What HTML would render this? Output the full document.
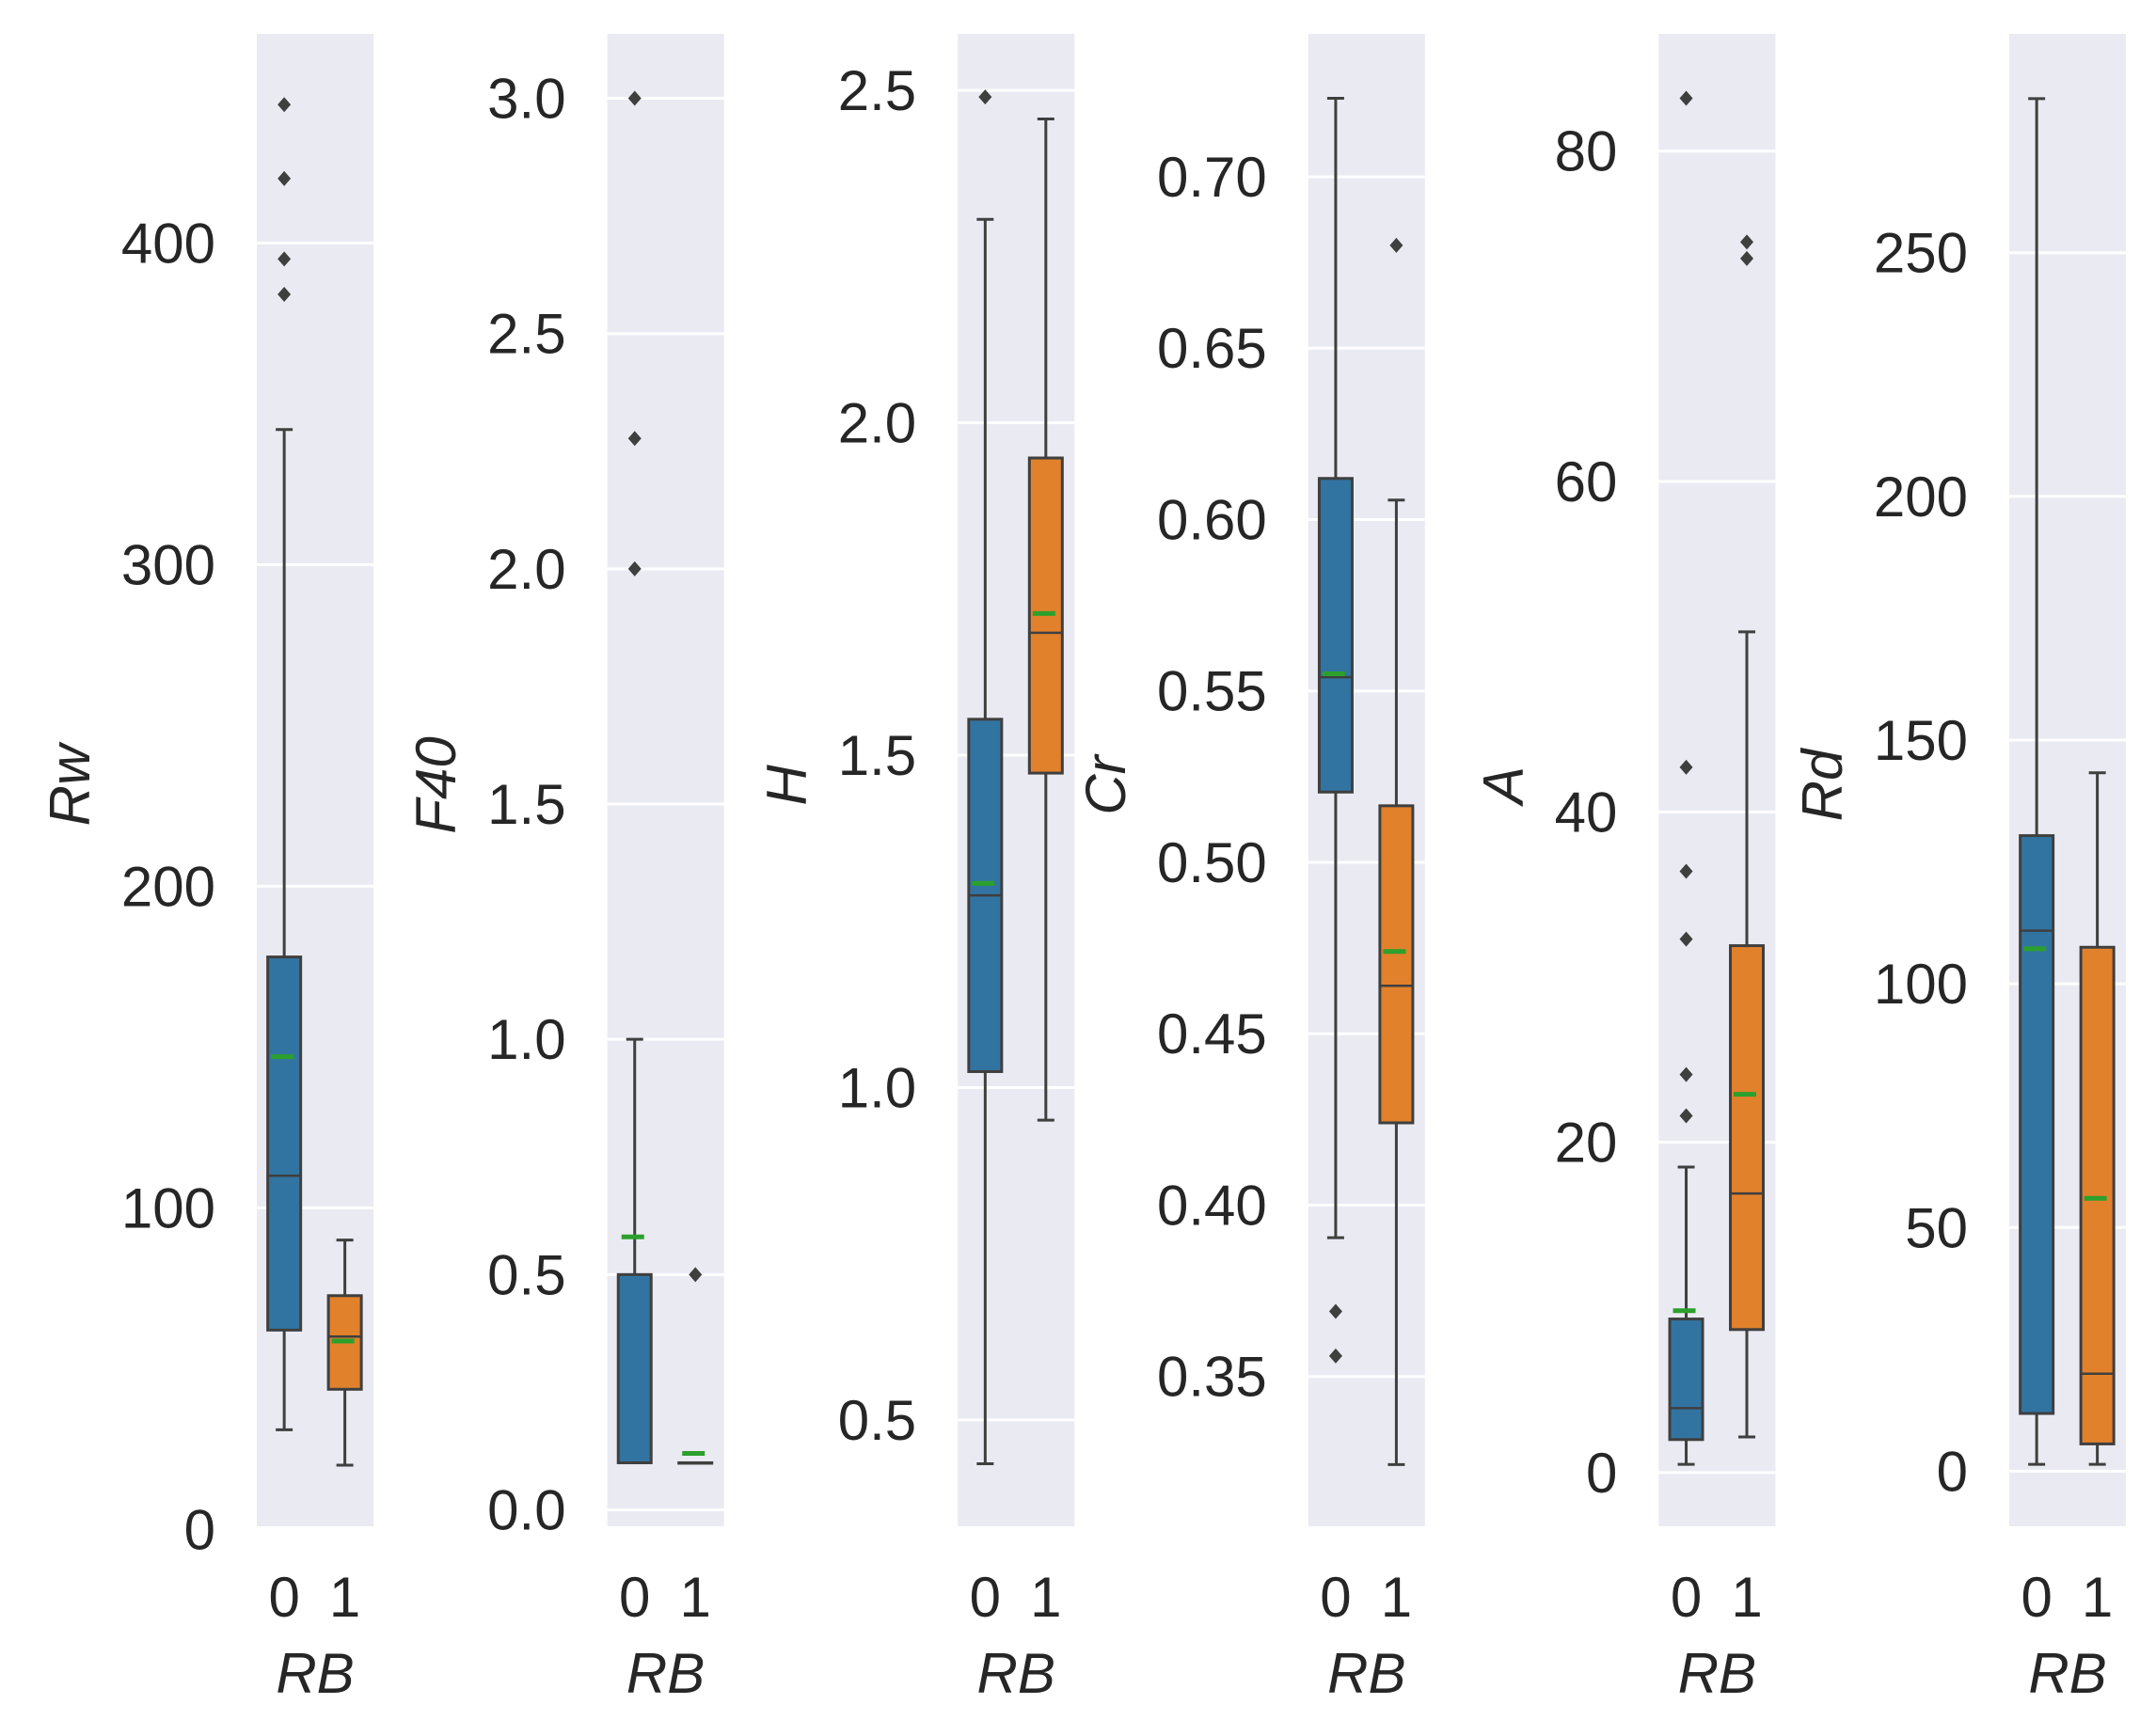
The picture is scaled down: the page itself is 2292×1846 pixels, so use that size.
<!DOCTYPE html>
<html><head><meta charset="utf-8"><style>
html,body{margin:0;padding:0;background:#fff;}
svg{display:block;font-family:"Liberation Sans",Arial,sans-serif;}
</style></head><body>
<svg id="chart" width="2292" height="1846" viewBox="0 0 2292 1846" xmlns="http://www.w3.org/2000/svg"></svg>
<script>
// Data per panel
const panelTitles = ["Rw","F40","H","Cr","A","Rd"];
const yLimits = [[1,465],[-0.035,3.137],[0.34,2.585],[0.3063,0.7417],[-3.25,87.1],[-11.3,294.9]];
const yTicks = [[0,100,200,300,400],[0,0.5,1,1.5,2,2.5,3],[0.5,1,1.5,2,2.5],[0.35,0.4,0.45,0.5,0.55,0.6,0.65,0.7],[0,20,40,60,80],[0,50,100,150,200,250]];
const tickDecimals = [0,1,1,2,0,0];
const categories = ["0","1"];
// [whiskerLow, q1, median, q3, whiskerHigh, mean] for RB=0 and RB=1
const statsRB0 = [[31,62,110,178,342,147],[0.1,0.1,0.1,0.5,1.0,0.58],[0.434,1.024,1.289,1.554,2.306,1.307],[0.3905,0.5205,0.554,0.612,0.7229,0.555],[0.5,2.0,3.9,9.3,18.5,9.8],[1.4,11.85,110.9,130.4,281.6,107.2]];
const statsRB1 = [[20,43.6,60,72.7,90,58.6],[0.1,0.1,0.1,0.1,0.1,0.12],[0.951,1.473,1.684,1.947,2.457,1.713],[0.3243,0.424,0.464,0.5165,0.6057,0.474],[2.16,8.66,16.9,31.9,50.9,22.9],[1.4,5.6,20,107.5,143.3,56]];
const outliersRB0 = [[443,420,395,384],[3.0,2.277,2.0],[2.49],[0.369,0.356],[83.2,42.7,36.4,32.3,24.1,21.6],[]];
const outliersRB1 = [[],[0.5],[],[0.68],[74.5,73.5],[]];

const NS="http://www.w3.org/2000/svg";
const svg=document.getElementById('chart');
function mk(tag,attrs,parent){const e=document.createElementNS(NS,tag);for(const k in attrs)e.setAttribute(k,attrs[k]);(parent||svg).appendChild(e);return e;}
const TOP=36,BOT=1623,PW=124,LEFT0=273,STEP=372.6,FS=60;
const colors=["#3274a1","#e1812c"],edge="#3f3f3f",green="#2ca02c";
for(let p=0;p<6;p++){
  const L=LEFT0+STEP*p;
  const g=mk('g',{});
  
  
  const [y0,y1]=yLimits[p];
  const Y=v=>BOT-(v-y0)/(y1-y0)*(BOT-TOP);
  const X=i=>L+PW*(i===0?0.235:0.755);
  const bg=mk('rect',{x:L,y:TOP,width:PW,height:BOT-TOP,fill:"#eaeaf2"},g);
  
  
  let maxW=0;const labels=[];
  yTicks[p].forEach(t=>{
    const y=Y(t);
    if(y>=TOP-1&&y<=BOT+1){
      const gl=mk('line',{x1:L,x2:L+PW,y1:y,y2:y,stroke:"#fff","stroke-width":3},g);
      
      
    }
    const tx=mk('text',{x:L-44,y:y+21,"text-anchor":"end","font-size":FS,fill:"#262626"},g);
    tx.textContent=t.toFixed(tickDecimals[p]);
    
    
    labels.push(tx);
  });
  labels.forEach(t=>{maxW=Math.max(maxW,t.getBBox().width);});
  const yt=mk('text',{x:0,y:0,"text-anchor":"middle","font-size":FS,"font-style":"italic",fill:"#262626",transform:`translate(${L-44-maxW-34},835) rotate(-90)`},g);
  yt.textContent=panelTitles[p];
  
  
  [statsRB0[p],statsRB1[p]].forEach((s,i)=>{
    const cx=X(i),bw=35;
    const bx=mk('g',{},g);
    
    
    mk('line',{x1:cx,x2:cx,y1:Y(s[0]),y2:Y(s[1]),stroke:edge,"stroke-width":3},bx);
    mk('line',{x1:cx,x2:cx,y1:Y(s[3]),y2:Y(s[4]),stroke:edge,"stroke-width":3},bx);
    mk('line',{x1:cx-9,x2:cx+9,y1:Y(s[0]),y2:Y(s[0]),stroke:edge,"stroke-width":3},bx);
    mk('line',{x1:cx-9,x2:cx+9,y1:Y(s[4]),y2:Y(s[4]),stroke:edge,"stroke-width":3},bx);
    mk('rect',{x:cx-bw/2,y:Y(s[3]),width:bw,height:Math.max(0.5,Y(s[1])-Y(s[3])),fill:colors[i],stroke:edge,"stroke-width":3},bx);
    mk('line',{x1:cx-bw/2,x2:cx+bw/2,y1:Y(s[2]),y2:Y(s[2]),stroke:edge,"stroke-width":2.5},bx);
    mk('line',{x1:cx-14,x2:cx+10,y1:Y(s[5]),y2:Y(s[5]),stroke:green,"stroke-width":5},bx);
    const outs=i===0?outliersRB0[p]:outliersRB1[p];
    outs.forEach(v=>{
      const y=Y(v);
      const d=mk('path',{d:`M${cx} ${y-8}L${cx+7} ${y}L${cx} ${y+8}L${cx-7} ${y}Z`,fill:edge},bx);
      
      
    });
    const xl=mk('text',{x:cx,y:1719,"text-anchor":"middle","font-size":FS,fill:"#262626"},g);
    xl.textContent=categories[i];
    
    
  });
  const xt=mk('text',{x:L+PW/2,y:1800,"text-anchor":"middle","font-size":FS,"font-style":"italic",fill:"#262626"},g);
  xt.textContent="RB";
  
  
}
</script>
</body></html>
